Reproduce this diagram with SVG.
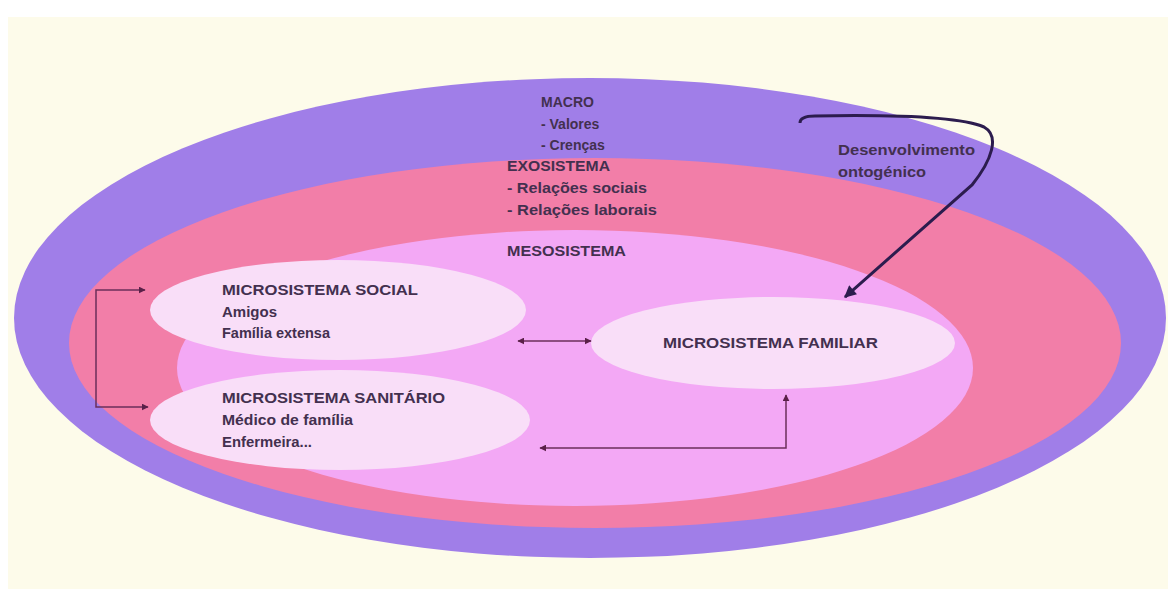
<svg xmlns="http://www.w3.org/2000/svg" width="1168" height="589" viewBox="0 0 1168 589">
<defs>
<style>
.t{font-family:"Liberation Sans",Arial,sans-serif;font-weight:bold;font-size:15px;fill:#43304f}
.s{font-size:14px}
.c{fill:none;stroke:#6b2f5a;stroke-width:1.5}
</style>
<marker id="ah" viewBox="0 0 10 10" refX="9" refY="5" markerWidth="7" markerHeight="7" markerUnits="userSpaceOnUse" orient="auto-start-reverse"><path d="M0,0 L10,5 L0,10 z" fill="#5a2048"/></marker>
<marker id="ahb" viewBox="0 0 10 10" refX="9" refY="5" markerWidth="4.5" markerHeight="4" orient="auto"><path d="M0,0 L10,5 L0,10 z" fill="#2c1c4e"/></marker>
</defs>
<rect width="1168" height="589" fill="#fdfbea"/>
<rect width="1168" height="17" fill="#ffffff"/>
<rect y="17" width="8" height="572" fill="#ffffff"/>
<g id="macro">
<ellipse cx="590" cy="318" rx="576" ry="240" fill="#a07ee8"/>
<text class="t s" x="541" y="107">MACRO</text>
<text class="t s" x="541" y="129">- Valores</text>
<text class="t s" x="541" y="150">- Crenças</text>
</g>
<g id="exosistema">
<ellipse cx="595" cy="343" rx="526" ry="185" fill="#f27ea8"/>
<text class="t" x="507" y="171" textLength="103" lengthAdjust="spacingAndGlyphs">EXOSISTEMA</text>
<text class="t" x="507" y="193" textLength="140" lengthAdjust="spacingAndGlyphs">- Relações sociais</text>
<text class="t" x="507" y="215" textLength="150" lengthAdjust="spacingAndGlyphs">- Relações laborais</text>
</g>
<g id="mesosistema">
<ellipse cx="575" cy="368" rx="398" ry="138" fill="#f3a8f5"/>
<text class="t" x="507" y="256" textLength="119" lengthAdjust="spacingAndGlyphs">MESOSISTEMA</text>
</g>
<g id="desenvolvimento">
<text class="t" x="838" y="155" textLength="137" lengthAdjust="spacingAndGlyphs">Desenvolvimento</text>
<text class="t" x="838" y="177" textLength="88" lengthAdjust="spacingAndGlyphs">ontogénico</text>
</g>
<g id="micro-social">
<ellipse cx="338" cy="310" rx="188" ry="50" fill="#f9def8"/>
<text class="t" x="222" y="295" textLength="196" lengthAdjust="spacingAndGlyphs">MICROSISTEMA SOCIAL</text>
<text class="t" x="222" y="317">Amigos</text>
<text class="t" x="222" y="338" textLength="108" lengthAdjust="spacingAndGlyphs">Família extensa</text>
</g>
<g id="micro-sanitario">
<ellipse cx="340" cy="420" rx="190" ry="50" fill="#f9def8"/>
<text class="t" x="222" y="403" textLength="223" lengthAdjust="spacingAndGlyphs">MICROSISTEMA SANITÁRIO</text>
<text class="t" x="222" y="425" textLength="131" lengthAdjust="spacingAndGlyphs">Médico de família</text>
<text class="t" x="222" y="447" textLength="90" lengthAdjust="spacingAndGlyphs">Enfermeira...</text>
</g>
<g id="micro-familiar">
<ellipse cx="773" cy="343" rx="182" ry="46" fill="#f9def8"/>
<text class="t" x="663" y="348" textLength="215" lengthAdjust="spacingAndGlyphs">MICROSISTEMA FAMILIAR</text>
</g>
<g id="connectors">
<path class="c" d="M145,290 H96 V407 H148" marker-start="url(#ah)" marker-end="url(#ah)"/>
<path class="c" d="M518,341 H591" marker-start="url(#ah)" marker-end="url(#ah)"/>
<path class="c" d="M540,448 H786 V395" marker-start="url(#ah)" marker-end="url(#ah)"/>
<path d="M800,123 C800,118 805,116 815,116 C870,115 955,115 984,127 C1000,136 992,160 972,185 L845,297" fill="none" stroke="#2c1c4e" stroke-width="3" marker-end="url(#ahb)"/>
</g>
</svg>
